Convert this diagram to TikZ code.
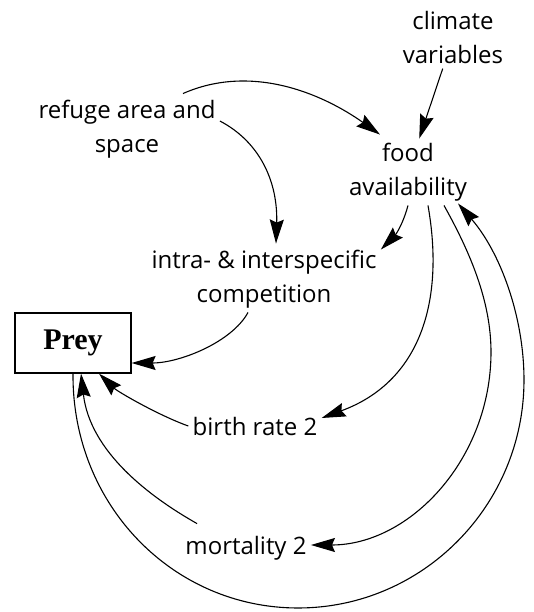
\documentclass[tikz,border=0pt]{standalone}
\usepackage{fontspec}
\setmainfont{Liberation Serif}
\newfontfamily\sketchfont{Open Sans}
\usetikzlibrary{arrows.meta}
\tikzstyle{var} = [align = center,
			inner sep = 2pt,
			font = \sketchfont\fontsize{12}{17}\selectfont]
\tikzstyle{stock} = [rectangle,
			draw,
			line width = 0.6pt,
			minimum width = 58pt,
			minimum height = 30pt,
			font = \bfseries\fontsize{15}{18}\selectfont]
\tikzset{link/.style = {-{Stealth[length=12pt, width=7pt, inset=1.5pt]},
			line width = 0.55pt}}

\begin{document}
\begin{tikzpicture}[x=0.5pt, y=0.5pt]
	\useasboundingbox (0,0) rectangle (534,612);
	\node [var] (climate) at (453,574) {climate\\variables};
	\node [var] (refuge) at (127,483) {refuge area and\\space};
	\node [var] (food) at (408,440) {food\\availability};
	\node [var] (competition) at (264,333) {intra- \& interspecific\\competition};
	\node [stock] (prey) at (73,269) {Prey};
	\node [var] (birth) at (255,186) {birth rate 2};
	\node [var] (mortality) at (246,64) {mortality 2};

	\draw [link] (climate) -- (food);
	\draw [link] ([xshift=28pt,yshift=1pt]refuge.north) .. controls (250,548) and (320,520) .. ([xshift=-14pt,yshift=2pt]food.north);
	\draw [link] ([yshift=4pt]refuge.east) .. controls (260,470) and (278,430) .. ([xshift=6pt,yshift=1pt]competition.north);
	\draw [link] (food.south) to[out=-105, in=45] ([yshift=-2pt]competition.north east);
	\draw [link] ([xshift=-8pt]competition.south) .. controls (232,270) and (180,249) .. ([yshift=-10pt]prey.east);
	\draw [link] ([xshift=10pt]food.south) .. controls (445,310) and (420,230) .. ([yshift=4pt]birth.east);
	\draw [link] (birth.west) .. controls (160,196) and (118,220) .. ([xshift=13pt]prey.south);
	\draw [link] ([xshift=18pt]food.south) .. controls (470,360) and (491,311) .. (491,260)
		.. controls (491,153) and (410,67) .. ([yshift=1.5pt]mortality.east);
	\draw [link] ([xshift=8pt,yshift=4pt]mortality.north west) .. controls (150,115) and (90,160) .. ([xshift=4pt]prey.south);
	% big loop back to the food
	\draw [link] (prey.south) .. controls (72,107) and (173,4) .. (298,4)
		.. controls (423,4) and (524,107) .. (524,232)
		.. controls (524,296) and (500,360) .. ([xshift=25pt,yshift=1pt]food.south);
\end{tikzpicture}
\end{document}
